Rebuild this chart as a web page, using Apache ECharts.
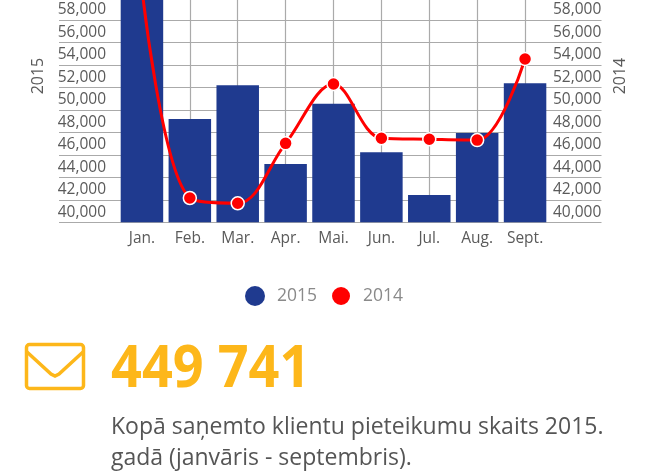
<!DOCTYPE html>
<html><head><meta charset="utf-8">
<style>html,body{margin:0;padding:0;background:#fff}#c{width:660px;height:471px}</style>
<script src="https://cdn.jsdelivr.net/npm/echarts@6/dist/echarts.min.js"></script>
</head><body><div id="c"></div>
<script>
const categories = ['Jan.','Feb.','Mar.','Apr.','Mai.','Jun.','Jul.','Aug.','Sept.'];
const values2015 = [63700,49180,52180,45180,50540,46220,42430,47940,52360];
const values2014 = [60800,42160,41690,47020,52290,47470,47380,47310,54520];
const seriesNames = ['2015','2014'];
const totalText = '449 741';
const captionLines = ['Kopā saņemto klientu pieteikumu skaits 2015.','gadā (janvāris - septembris).'];
const FONT = 'Open Sans';
const GREY = '#aaaaaa', TXT = '#5a5a5a', ORANGE = '#fdb71a';
function yAxis(name, tickLen, margin, nameGap){
  return {type:'value',min:40000,max:66000,interval:2000,name:name,nameLocation:'middle',nameGap:nameGap,
    nameTextStyle:{color:TXT,fontFamily:FONT,fontSize:16},
    axisLine:{show:false},
    axisTick:{show:true,length:tickLen,lineStyle:{color:GREY,width:1.2}},
    splitLine:{show:true,lineStyle:{color:GREY,width:1.2}},
    axisLabel:{color:TXT,fontFamily:FONT,fontSize:15.5,margin:margin,verticalAlign:'bottom',padding:[0,0,2,0],
      formatter:v=>String(v).replace(/(\d)(\d{3})$/,'$1,$2')}};
}
const chart = echarts.init(document.getElementById('c'),null,{renderer:'canvas'});
chart.setOption({
  animation:false,
  grid:{left:118,right:111,top:-70.2,bottom:248.7,containLabel:false,outerBoundsMode:'none'},
  legend:{left:240,top:280,itemWidth:20,itemHeight:20,itemGap:13,selectedMode:false,
    textStyle:{color:'#8a8a8a',fontFamily:FONT,fontSize:17.5,padding:[0,0,0,7]},
    data:[{name:seriesNames[0],icon:'circle'},{name:seriesNames[1],icon:'circle'}]},
  xAxis:{type:'category',data:categories,
    axisLine:{lineStyle:{color:GREY,width:1.2}},axisTick:{show:false},
    axisLabel:{color:TXT,fontFamily:FONT,fontSize:15.5,margin:8,interval:0},
    splitLine:{show:true,alignWithLabel:true,lineStyle:{color:GREY,width:1.2}}},
  yAxis:[yAxis(seriesNames[0],59,12,69),yAxis(seriesNames[1],52.5,4,63)],
  series:[
    {name:seriesNames[0],type:'bar',yAxisIndex:0,data:values2015,barWidth:42.5,itemStyle:{color:'#1f3a8f'}},
    {name:seriesNames[1],type:'line',yAxisIndex:1,data:values2014,smooth:0.35,symbol:'circle',symbolSize:13,z:5,
      lineStyle:{color:'#ff0000',width:3},itemStyle:{color:'#ff0000',borderColor:'#fff',borderWidth:1.5}}
  ],
  graphic:[
    {type:'group',left:24,top:342,children:[
      {type:'rect',shape:{x:1.5,y:1.5,width:57,height:44,r:3},style:{fill:'none',stroke:ORANGE,lineWidth:3.5}},
      {type:'polyline',shape:{points:[[2,9],[26,31],[30,33],[34,31],[58,9]]},style:{fill:'none',stroke:ORANGE,lineWidth:3.5}}
    ]},
    {type:'text',x:111,y:341,scaleY:1.08,style:{text:totalText,fill:ORANGE,font:'bold 54px "Open Sans"'}},
    {type:'text',left:111,top:416,style:{text:captionLines[0],fill:'#555555',font:'23px "Open Sans"'}},
    {type:'text',left:111,top:447,style:{text:captionLines[1],fill:'#555555',font:'23px "Open Sans"'}}
  ]
});
</script></body></html>
